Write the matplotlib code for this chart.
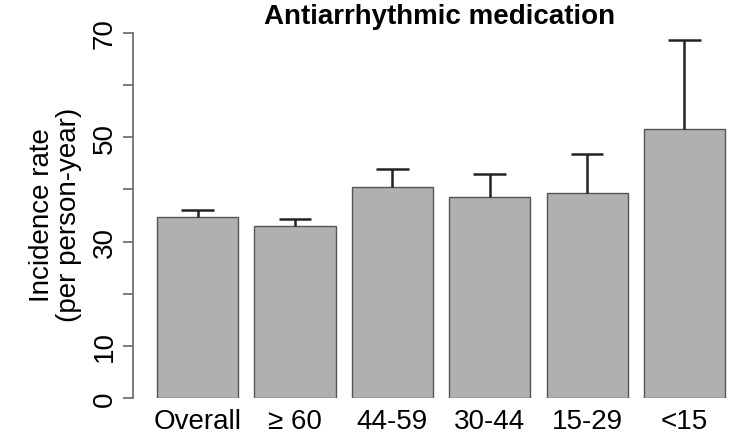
import matplotlib

matplotlib.use("Agg")
import matplotlib.pyplot as plt
import numpy as np

plt.rcParams["font.family"] = ["Liberation Sans", "DejaVu Sans"]

groups = ["Overall", "\u2265 60", "44-59", "30-44", "15-29", "<15"]
rates = [34.7, 33.0, 40.5, 38.6, 39.4, 51.5]
upper = [36.1, 34.3, 44.0, 43.0, 46.7, 68.6]
y_ticks = [0, 10, 20, 30, 40, 50, 60, 70]
y_labels = ["0", "10", "", "30", "", "50", "", "70"]

W, H = 738, 435
fig = plt.figure(figsize=(W / 100, H / 100), dpi=100)
# plot region: x 133..738 px, y 34..399 px
ax = fig.add_axes([133 / W, (H - 399) / H, (W - 133) / W, (399 - 34) / H])

x = 0.7 + 1.2 * np.arange(len(groups))
ax.bar(x, rates, width=1.0, color="#b0b0b0", edgecolor="#555555", linewidth=1.0, zorder=2)
# upper error bars only
ax.vlines(x, rates, upper, color="#222222", linewidth=1.8, zorder=3)
ax.hlines(upper, x - 0.2, x + 0.2, color="#222222", linewidth=1.8, zorder=3)

ax.set_xlim(-0.096, 7.36)
ax.set_ylim(0, 70)
ax.set_xticks(x)
ax.set_xticklabels(groups, fontsize=20)
ax.tick_params(axis="x", length=0, pad=7)
ax.set_yticks(y_ticks)
ax.set_yticklabels(y_labels, fontsize=20, rotation=90, va="center")
ax.tick_params(axis="y", length=7, width=1.2, color="#666666", pad=4, direction="out")
for side in ["top", "right", "bottom"]:
    ax.spines[side].set_visible(False)
ax.spines["left"].set_color("#666666")
ax.spines["left"].set_linewidth(1.2)
ax.spines["left"].set_bounds(0, 70)

fig.text(56 / W, 1 - 215 / H, "Incidence rate\n(per person-year)", rotation=90,
         ha="center", va="center", fontsize=20, linespacing=1.05)
fig.text(440 / W, 1 - 17 / H, "Antiarrhythmic medication", ha="center", va="center",
         fontsize=20, fontweight="bold")

fig.savefig("out.png", dpi=100)
